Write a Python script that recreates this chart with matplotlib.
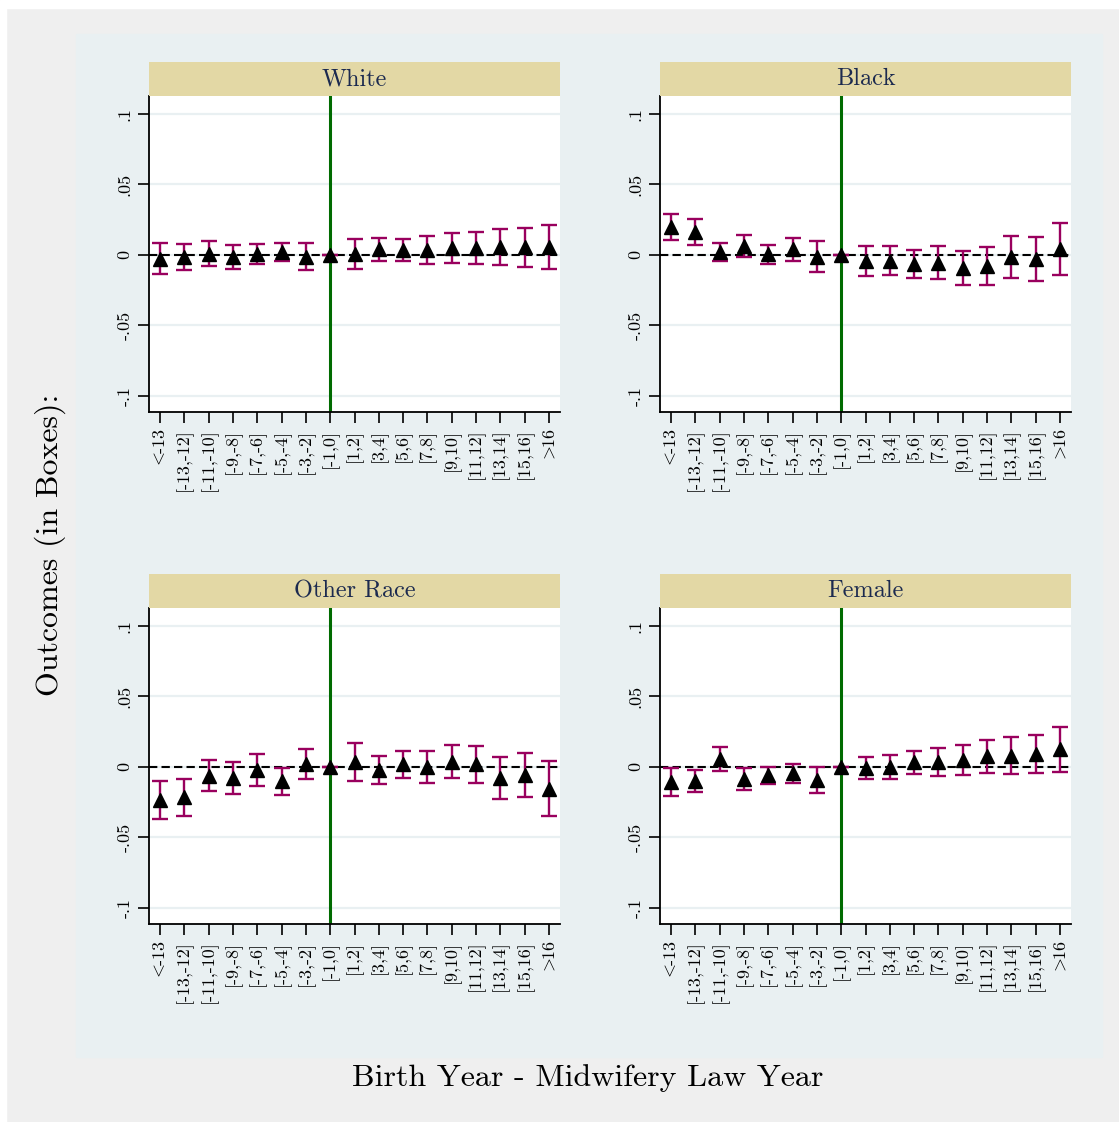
import numpy as np
import matplotlib
matplotlib.use("Agg")
import matplotlib.pyplot as plt
from matplotlib.patches import Rectangle

# event-time bins (birth year relative to law year); [-1,0] is the omitted reference
bins = ["<-13", "[-13,-12]", "[-11,-10]", "[-9,-8]", "[-7,-6]", "[-5,-4]",
        "[-3,-2]", "[-1,0]", "[1,2]", "[3,4]", "[5,6]", "[7,8]", "[9,10]",
        "[11,12]", "[13,14]", "[15,16]", ">16"]

white_coef = [-0.0028, -0.0017, 0.0009, -0.0014, 0.0004, 0.0020, -0.0012, 0.0,
              0.0008, 0.0041, 0.0035, 0.0038, 0.0048, 0.0050, 0.0055, 0.0054, 0.0057]
white_ci = [0.0111, 0.0092, 0.0090, 0.0083, 0.0072, 0.0065, 0.0097, 0.0,
            0.0107, 0.0081, 0.0080, 0.0099, 0.0105, 0.0116, 0.0126, 0.0137, 0.0158]

black_coef = [0.0196, 0.0165, 0.0024, 0.0063, 0.0006, 0.0041, -0.0012, 0.0,
              -0.0046, -0.0040, -0.0065, -0.0054, -0.0093, -0.0078, -0.0014, -0.0031, 0.0040]
black_ci = [0.0092, 0.0092, 0.0064, 0.0081, 0.0067, 0.0081, 0.0109, 0.0,
            0.0107, 0.0101, 0.0100, 0.0120, 0.0124, 0.0137, 0.0149, 0.0156, 0.0184]

other_coef = [-0.0236, -0.0216, -0.0061, -0.0077, -0.0021, -0.0103, 0.0020, 0.0,
              0.0035, -0.0020, 0.0019, 0.0002, 0.0037, 0.0018, -0.0079, -0.0055, -0.0155]
other_ci = [0.0137, 0.0133, 0.0109, 0.0114, 0.0111, 0.0093, 0.0105, 0.0,
            0.0132, 0.0100, 0.0097, 0.0113, 0.0119, 0.0133, 0.0150, 0.0157, 0.0195]

female_coef = [-0.0107, -0.0098, 0.0057, -0.0087, -0.0060, -0.0046, -0.0091, 0.0,
               -0.0006, 0.0002, 0.0034, 0.0035, 0.0051, 0.0074, 0.0080, 0.0093, 0.0125]
female_ci = [0.0096, 0.0079, 0.0085, 0.0078, 0.0058, 0.0065, 0.0091, 0.0,
             0.0077, 0.0085, 0.0081, 0.0097, 0.0105, 0.0119, 0.0130, 0.0136, 0.0160]

panels = [("White", white_coef, white_ci),
          ("Black", black_coef, black_ci),
          ("Other Race", other_coef, other_ci),
          ("Female", female_coef, female_ci)]

yticks = [-0.1, -0.05, 0, 0.05, 0.1]
ytick_labels = ["-.1", "-.05", "0", ".05", ".1"]

plt.rcParams["font.family"] = ["cmr10", "DejaVu Serif"]
plt.rcParams["axes.unicode_minus"] = False
plt.rcParams["mathtext.fontset"] = "cm"

# cmr10 has no < and > glyphs, so those come from mathtext, pulled tight
# against the number with a negative space
bin_labels = [b.replace("<", r"$<\!\!$").replace(">", r"$>\!\!$") for b in bins]

W, H = 1119, 1122
fig = plt.figure(figsize=(W / 100, H / 100), dpi=100, facecolor="#efefef")

# thin white edge on the left and top, then the light-blue plot region
for r in [Rectangle((0, 0), 6 / W, 1), Rectangle((0, 1 - 8 / H), 1, 8 / H)]:
    r.set(transform=fig.transFigure, color="white", zorder=-10)
    fig.patches.append(r)
region = Rectangle((76 / W, 1 - 1057 / H), (1102 - 76) / W, (1057 - 34) / H,
                   transform=fig.transFigure, color="#e9f0f2", zorder=-10)
fig.patches.append(region)

lefts = [149, 660]
tops = [96, 608]
aw, ah, strip_h = 411, 316, 34
x = np.arange(len(bins))

for i, (name, coef, ci) in enumerate(panels):
    l = lefts[i % 2]
    t = tops[i // 2]
    ax = fig.add_axes([l / W, 1 - (t + ah) / H, aw / W, ah / H], zorder=1)
    ax.set_facecolor("white")

    ax.axhline(0, color="black", lw=1.5, ls=(0, (4, 2)), zorder=2)
    ax.axvline(7, color="#006b00", lw=2.2, zorder=2)
    ax.errorbar(x, coef, yerr=ci, fmt="none", ecolor="#99005e",
                elinewidth=1.7, capsize=5.5, capthick=1.7, zorder=3)
    ax.plot(x, coef, "^", color="black", ms=10, zorder=4)

    ax.set_xlim(-0.45, 16.45)
    ax.set_ylim(-0.1115, 0.1128)
    ax.set_yticks(yticks)
    ax.set_yticklabels(ytick_labels, rotation=90, va="center")
    ax.set_xticks(x)
    ax.set_xticklabels(bin_labels, rotation=90)
    ax.yaxis.grid(True, color="#e9f0f2", lw=1.6)
    ax.set_axisbelow(True)
    for s in ["top", "right"]:
        ax.spines[s].set_visible(False)
    for s in ["left", "bottom"]:
        ax.spines[s].set_linewidth(1.3)
    ax.tick_params(direction="out", length=8, width=1.2, labelsize=13, pad=4)

    # panel title strip
    sax = fig.add_axes([l / W, 1 - t / H, aw / W, strip_h / H], zorder=1)
    sax.set_facecolor("#e3d8a5")
    sax.set_xticks([])
    sax.set_yticks([])
    for s in sax.spines.values():
        s.set_visible(False)
    sax.text(0.5, 0.5, name, ha="center", va="center", fontsize=17.5,
             color="#1c2a4f", transform=sax.transAxes)

fig.text(588 / W, 1 - 1078 / H, "Birth Year - Midwifery Law Year",
         ha="center", va="center", fontsize=23)
fig.text(50 / W, 1 - 545 / H, "Outcomes (in Boxes):", rotation=90,
         ha="center", va="center", fontsize=23)

fig.savefig("out.png", dpi=100, facecolor=fig.get_facecolor())
